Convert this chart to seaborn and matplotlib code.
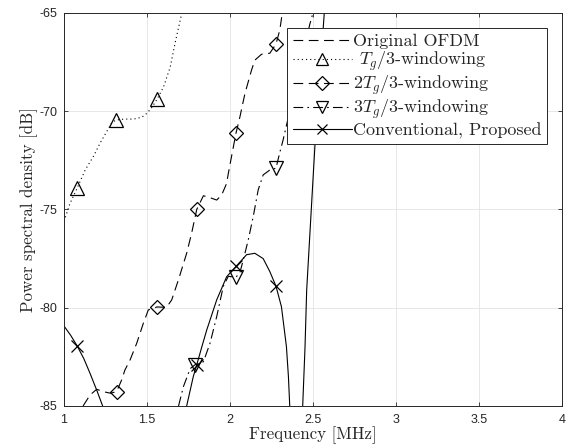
import matplotlib
matplotlib.use("Agg")
import matplotlib.pyplot as plt
import seaborn as sns
from matplotlib.lines import Line2D

# values (frequency in MHz, PSD in dB)
freq_tg1 = [1.00, 1.036, 1.08, 1.127, 1.177, 1.217, 1.257, 1.287, 1.313, 1.36,
            1.42, 1.47, 1.50, 1.53, 1.56, 1.60, 1.64, 1.67, 1.71]
psd_tg1 = [-75.6, -74.7, -73.9, -73.0, -72.3, -71.63, -71.04, -70.6, -70.45, -70.4,
           -70.4, -70.3, -70.1, -69.8, -69.4, -68.76, -67.75, -66.5, -65.0]
mark_x_tg1 = [1.08, 1.313, 1.56]
mark_y_tg1 = [-73.9, -70.45, -69.4]

freq_tg2 = [1.115, 1.157, 1.197, 1.237, 1.28, 1.317, 1.347, 1.367, 1.398, 1.438,
            1.478, 1.508, 1.56, 1.618, 1.649, 1.689, 1.739, 1.769, 1.80, 1.84,
            1.88, 1.92, 1.95, 1.98, 1.99, 2.036, 2.06, 2.09, 2.13, 2.15,
            2.19, 2.24, 2.277, 2.30, 2.315]
psd_tg2 = [-85.0, -84.44, -84.15, -84.27, -84.35, -84.27, -83.68, -83.17, -82.66, -81.81,
           -80.79, -80.11, -79.96, -79.98, -79.6, -78.59, -77.23, -76.2, -74.99, -74.3,
           -74.4, -74.52, -74.26, -73.67, -73.16, -71.12, -70.28, -69.1, -67.9, -67.4,
           -67.1, -67.05, -66.58, -65.87, -65.0]
mark_x_tg2 = [1.317, 1.56, 1.80, 2.036, 2.277]
mark_y_tg2 = [-84.27, -79.96, -74.99, -71.12, -66.58]

freq_tg3 = [1.69, 1.72, 1.76, 1.79, 1.84, 1.88, 1.92, 1.96, 1.99, 2.036,
            2.06, 2.08, 2.11, 2.14, 2.17, 2.20, 2.24, 2.277, 2.30, 2.32,
            2.48, 2.50]
psd_tg3 = [-85.0, -84.0, -83.1, -82.9, -82.75, -81.8, -80.45, -78.9, -78.4, -78.45,
           -78.2, -77.57, -76.55, -75.36, -74.0, -73.24, -72.99, -72.9, -72.1, -71.46,
           -65.6, -65.0]
mark_x_tg3 = [1.79, 2.036, 2.277]
mark_y_tg3 = [-82.9, -78.45, -72.9]

freq_conv_a = [1.0, 1.04, 1.08, 1.12, 1.157, 1.197, 1.233]
psd_conv_a = [-80.93, -81.4, -81.95, -82.6, -83.34, -84.19, -85.0]
freq_conv_b = [1.739, 1.779, 1.80, 1.83, 1.86, 1.92, 1.98, 2.036, 2.10, 2.15,
               2.20, 2.24, 2.277, 2.31, 2.34, 2.352, 2.36]
psd_conv_b = [-85.0, -83.5, -82.9, -82.0, -81.13, -79.6, -78.42, -77.9, -77.3, -77.23,
              -77.5, -78.16, -78.9, -79.95, -81.98, -83.5, -85.0]
freq_conv_c = [2.438, 2.452, 2.462, 2.512, 2.568]
psd_conv_c = [-85.0, -82.0, -79.1, -71.7, -65.0]
mark_x_conv = [1.08, 1.80, 2.036, 2.277]
mark_y_conv = [-81.95, -82.9, -77.9, -78.9]

x_ticks = [1, 1.5, 2, 2.5, 3, 3.5, 4]
y_ticks = [-85, -80, -75, -70, -65]
labels = ["Original OFDM", r" $T_g/3$-windowing", r"$2T_g/3$-windowing",
          r"$3T_g/3$-windowing", "Conventional, Proposed"]

sns.set_style("whitegrid")
plt.rcParams["font.family"] = ["cmr10", "DejaVu Serif"]
plt.rcParams["mathtext.fontset"] = "cm"
plt.rcParams["axes.formatter.use_mathtext"] = True
plt.rcParams["axes.unicode_minus"] = False
plt.rcParams["lines.scale_dashes"] = False

DASH = (0, (7, 4))
DOT = (0, (0.8, 2.2))
DASHDOT = (0, (7, 3, 1.2, 3))
LW = 0.8

fig, ax = plt.subplots(figsize=(5.78, 4.46), dpi=100)
fig.subplots_adjust(left=0.1107, right=0.9723, top=0.9709, bottom=0.0897)

sns.lineplot(x=freq_tg1, y=psd_tg1, ax=ax, color="k", lw=LW, linestyle=DOT, sort=False)
sns.lineplot(x=freq_tg2, y=psd_tg2, ax=ax, color="k", lw=LW, linestyle=DASH, sort=False)
sns.lineplot(x=freq_tg3, y=psd_tg3, ax=ax, color="k", lw=LW, linestyle=DASHDOT, sort=False)
for fx, fy in [(freq_conv_a, psd_conv_a), (freq_conv_b, psd_conv_b), (freq_conv_c, psd_conv_c)]:
    sns.lineplot(x=fx, y=fy, ax=ax, color="k", lw=LW, linestyle="-", sort=False)

mk = dict(ls="none", mfc="none", mec="k", mew=0.9)
ax.plot(mark_x_tg1, mark_y_tg1, marker="^", ms=10, **mk)
ax.plot(mark_x_tg2, mark_y_tg2, marker="D", ms=7.5, **mk)
ax.plot(mark_x_tg3, mark_y_tg3, marker="v", ms=10, **mk)
ax.plot(mark_x_conv, mark_y_conv, marker="x", ms=8, **mk)

ax.set_xlim(1, 4)
ax.set_ylim(-85, -65)
ax.set_xticks(x_ticks)
ax.set_xticklabels([f"{t:g}" for t in x_ticks])
ax.set_yticks(y_ticks)
ax.set_yticklabels([f"{t:g}" for t in y_ticks])
ax.tick_params(direction="in", length=3, width=0.6, colors="#262626",
               top=True, right=True, bottom=True, left=True,
               labelsize=9, labelfontfamily="Liberation Sans")
ax.tick_params(axis="x", pad=6)
ax.tick_params(axis="y", pad=5)
ax.grid(True, color="#e3e3e3", lw=0.6)
for s in ax.spines.values():
    s.set_color("#262626")
    s.set_linewidth(0.7)

ax.set_xlabel("Frequency [MHz]", fontsize=12.2, color="#262626", labelpad=0)
ax.set_ylabel("Power spectral density [dB]", fontsize=12.2, color="#262626", labelpad=1)

hk = dict(color="k", lw=LW, mfc="none", mew=0.9)
handles = [
    Line2D([], [], ls=DASH, **hk),
    Line2D([], [], ls=DOT, marker="^", ms=9, **hk),
    Line2D([], [], ls=DASH, marker="D", ms=7, **hk),
    Line2D([], [], ls=DASHDOT, marker="v", ms=9, **hk),
    Line2D([], [], ls="-", marker="x", ms=7, **hk),
]
leg = ax.legend(handles, labels, loc="upper right", bbox_to_anchor=(0.970, 0.962),
                borderaxespad=0, fontsize=13, numpoints=1, handlelength=3.3,
                handletextpad=0.05, labelspacing=0.05, borderpad=0.3,
                fancybox=False, framealpha=1, edgecolor="#262626")
leg.get_frame().set_linewidth(0.7)

fig.savefig("out.png", dpi=100)
